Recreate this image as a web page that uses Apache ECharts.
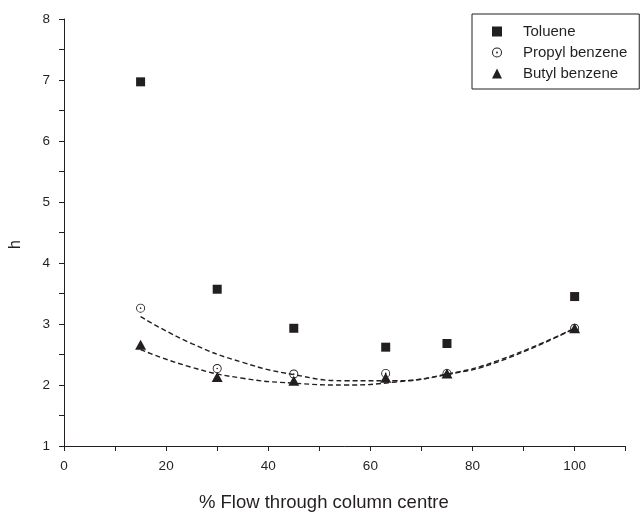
<!DOCTYPE html>
<html>
<head>
<meta charset="utf-8">
<script src="https://cdn.jsdelivr.net/npm/echarts@6/dist/echarts.min.js"></script>
<style>
html,body{margin:0;padding:0;background:#fff;}
#chart{width:642px;height:517px;}
</style>
</head>
<body>
<div id="chart"></div>
<script>
// Data
var flowX = [15, 30, 45, 63, 75, 100];
var toluene = [6.97, 3.57, 2.93, 2.62, 2.68, 3.45];
var propyl = [3.26, 2.27, 2.18, 2.19, 2.19, 2.93];
var butyl = [2.66, 2.13, 2.07, 2.12, 2.19, 2.93];
// Fitted (dashed) curves
var fitX = [15, 25, 35, 45, 55, 65, 75, 85, 100];
var propylFit = [3.12, 2.68, 2.37, 2.17, 2.07, 2.07, 2.18, 2.40, 2.93];
var butylFit = [2.58, 2.29, 2.11, 2.03, 2.00, 2.05, 2.17, 2.38, 2.93];
var seriesNames = ['Toluene', 'Propyl benzene', 'Butyl benzene'];
var xTitle = '% Flow through column centre';
var yTitle = 'h';

function pairs(xs, ys) { return xs.map(function (x, i) { return [x, ys[i]]; }); }

var ink = '#231f20';
var ringDot = 'path://M0,-5A5,5 0 1,1 0,5A5,5 0 1,1 0,-5ZM0,-4A4,4 0 1,0 0,4A4,4 0 1,0 0,-4ZM0,-0.9A0.9,0.9 0 1,1 0,0.9A0.9,0.9 0 1,1 0,-0.9Z';
var font = 'Liberation Sans, Arial, sans-serif';

var chart = echarts.init(document.getElementById('chart'), null, {renderer: 'canvas'});
chart.setOption({
  animation: false,
  backgroundColor: '#fff',
  textStyle: {fontFamily: font, color: ink},
  grid: {left: 61, right: 16.3, top: 19, bottom: 64, containLabel: false},
  legend: {
    orient: 'vertical',
    left: 472, top: 14,
    data: seriesNames,
    borderColor: ink, borderWidth: 1,
    padding: [10, 12, 8, 20],
    itemWidth: 10, itemHeight: 10, itemGap: 6,
    textStyle: {fontSize: 15, color: ink, fontFamily: font, padding: [0, 0, 0, 16]}
  },
  xAxis: {
    type: 'value', min: 0, max: 110, interval: 10,
    name: xTitle, nameLocation: 'middle', nameGap: 47,
    nameTextStyle: {fontSize: 18.5, color: ink, fontFamily: font, padding: [0, 42, 0, 0]},
    axisLine: {show: true, lineStyle: {color: ink, width: 1}},
    axisTick: {show: true, inside: false, length: 5, lineStyle: {color: ink}},
    axisLabel: {margin: 13, fontSize: 13.5, color: ink, fontFamily: font,
      formatter: function (v) { return (v % 20 === 0 && v <= 100) ? String(v) : ''; }},
    splitLine: {show: false}
  },
  yAxis: {
    type: 'value', min: 1, max: 8, interval: 0.5,
    name: yTitle, nameLocation: 'middle', nameGap: 40, nameRotate: 90,
    nameTextStyle: {fontSize: 16, color: ink, fontFamily: font, padding: [0, 24, 0, 0]},
    axisLine: {show: true, lineStyle: {color: ink, width: 1}},
    axisTick: {show: true, inside: false, length: 5, lineStyle: {color: ink}},
    axisLabel: {margin: 14, fontSize: 13.5, color: ink, fontFamily: font,
      formatter: function (v) { return Math.abs(v - Math.round(v)) < 1e-9 ? String(Math.round(v)) : ''; }},
    splitLine: {show: false}
  },
  series: [
    {name: 'propylFit', type: 'line', data: pairs(fitX, propylFit), smooth: true, showSymbol: false, symbol: 'none',
      lineStyle: {color: ink, width: 1.4, type: [5, 3]}, z: 1, silent: true},
    {name: 'butylFit', type: 'line', data: pairs(fitX, butylFit), smooth: true, showSymbol: false, symbol: 'none',
      lineStyle: {color: ink, width: 1.4, type: [5, 3]}, z: 1, silent: true},
    {name: seriesNames[0], type: 'scatter', data: pairs(flowX, toluene), symbol: 'rect', symbolSize: 9,
      itemStyle: {color: ink, opacity: 1}, z: 3},
    {name: seriesNames[1], type: 'scatter', data: pairs(flowX, propyl), symbol: ringDot, symbolSize: 9,
      itemStyle: {color: ink, opacity: 1}, z: 3},
    {name: seriesNames[2], type: 'scatter', data: pairs(flowX, butyl), symbol: 'triangle', symbolSize: [11, 10],
      itemStyle: {color: ink, opacity: 1}, z: 4}
  ]
});
</script>
</body>
</html>
